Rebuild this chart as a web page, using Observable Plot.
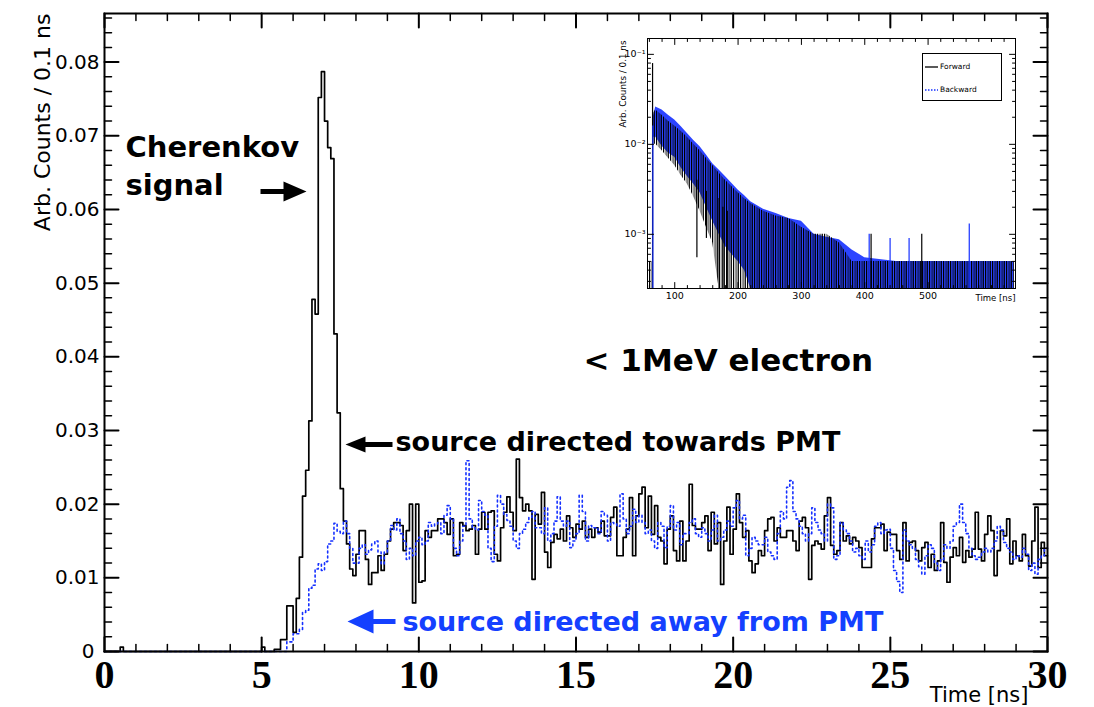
<!DOCTYPE html>
<html>
<head>
<meta charset="utf-8">
<script src="https://cdn.jsdelivr.net/npm/d3@7"></script>
<script src="https://cdn.jsdelivr.net/npm/@observablehq/plot@0.6"></script>
<style>
  html, body { margin: 0; padding: 0; background: #fff; }
  #wrap { position: relative; width: 1094px; height: 707px; overflow: hidden; background: #fff; }
  #wrap > svg { position: absolute; }
  #legend { position: absolute; left: 922px; top: 53px; width: 78px; height: 46px; border: 1.3px solid #000; background: #fff;
            font-family: "DejaVu Sans", sans-serif; font-size: 7.5px; }
  #legend .row { position: absolute; left: 0; width: 100%; height: 12px; }
  #legend .row svg { position: absolute; left: 2px; top: 0; }
  #legend .row span { position: absolute; left: 17px; top: 1px; line-height: 10px; }
</style>
</head>
<body>
<div id="wrap"></div>
<script>
// ---------- data ----------
const binWidth = 0.1; // ns per bin
const seriesNames = ["Forward", "Backward"];

// source directed towards PMT (black solid histogram), 300 bins of 0.1 ns
const forward = [
  0,0,0,0,0,0.0006,0,0,0,0,
  0,0,0,0,0,0,0,0,0,0,
  0,0,0,0,0,0,0,0,0,0,
  0,0,0,0,0,0,0,0,0,0,
  0,0,0,0,0,0,0,0,0,0,
  0.0006,0,0,0,0.0003,0.0003,0.0016,0.0016,0.0062,0.0062,
  0.0026,0.0072,0.0128,0.0211,0.0246,0.0313,0.0478,0.0458,0.0752,0.0787,
  0.0720,0.0684,0.0669,0.0431,0.0324,0.0221,0.0177,0.0146,0.0112,0.0103,
  0.0132,0.0164,0.0164,0.0125,0.0091,0.0107,0.0107,0.0130,0.0110,0.0132,
  0.0150,0.0166,0.0175,0.0175,0.0171,0.0137,0.0164,0.0200,0.0066,0.0200,
  0.0094,0.0096,0.0164,0.0155,0.0164,0.0164,0.0180,0.0180,0.0175,0.0159,
  0.0180,0.0130,0.0132,0.0175,0.0171,0.0164,0.0166,0.0171,0.0132,0.0166,
  0.0189,0.0166,0.0189,0.0191,0.0132,0.0123,0.0168,0.0189,0.0210,0.0189,
  0.0164,0.0261,0.0209,0.0191,0.0200,0.0191,0.0098,0.0186,0.0173,0.0216,
  0.0135,0.0114,0.0148,0.0159,0.0153,0.0166,0.0150,0.0184,0.0168,0.0155,
  0.0173,0.0166,0.0177,0.0155,0.0166,0.0155,0.0168,0.0162,0.0177,0.0157,
  0.0157,0.0182,0.0196,0.0130,0.0130,0.0155,0.0166,0.0209,0.0130,0.0184,
  0.0214,0.0223,0.0168,0.0211,0.0159,0.0198,0.0155,0.0150,0.0119,0.0166,
  0.0184,0.0137,0.0123,0.0177,0.0123,0.0150,0.0227,0.0171,0.0166,0.0166,
  0.0175,0.0184,0.0137,0.0189,0.0146,0.0175,0.0091,0.0150,0.0196,0.0132,
  0.0166,0.0214,0.0175,0.0155,0.0164,0.0123,0.0107,0.0119,0.0137,0.0130,
  0.0164,0.0180,0.0182,0.0150,0.0168,0.0155,0.0155,0.0164,0.0164,0.0150,
  0.0137,0.0177,0.0182,0.0168,0.0098,0.0144,0.0150,0.0146,0.0139,0.0184,
  0.0209,0.0144,0.0132,0.0137,0.0175,0.0150,0.0157,0.0146,0.0155,0.0150,
  0.0141,0.0114,0.0114,0.0114,0.0153,0.0168,0.0168,0.0173,0.0137,0.0162,
  0.0159,0.0159,0.0137,0.0125,0.0175,0.0123,0.0148,0.0150,0.0137,0.0123,
  0.0141,0.0148,0.0114,0.0132,0.0110,0.0123,0.0175,0.0121,0.0094,0.0128,
  0.0141,0.0130,0.0155,0.0121,0.0137,0.0128,0.0139,0.0189,0.0139,0.0123,
  0.0159,0.0184,0.0164,0.0103,0.0137,0.0164,0.0157,0.0180,0.0119,0.0150,
  0.0130,0.0123,0.0159,0.0130,0.0116,0.0150,0.0196,0.0114,0.0148,0.0130
];

// source directed away from PMT (blue dotted histogram), 300 bins of 0.1 ns
const backward = [
  0,0,0,0,0,0,0,0,0,0,
  0,0,0,0,0,0,0,0,0,0,
  0,0,0,0,0,0,0,0,0,0,
  0,0,0,0,0,0,0,0,0,0,
  0,0,0,0,0,0,0,0,0,0,
  0,0,0,0,0,0,0,0,0.0013,0.0013,
  0.0024,0.0024,0.0030,0.0053,0.0056,0.0086,0.0090,0.0112,0.0119,0.0110,
  0.0122,0.0146,0.0150,0.0174,0.0163,0.0160,0.0177,0.0160,0.0140,0.0120,
  0.0120,0.0140,0.0145,0.0132,0.0138,0.0146,0.0150,0.0135,0.0119,0.0135,
  0.0150,0.0171,0.0165,0.0180,0.0160,0.0150,0.0125,0.0140,0.0130,0.0150,
  0.0155,0.0145,0.0150,0.0175,0.0170,0.0173,0.0175,0.0160,0.0185,0.0198,
  0.0180,0.0140,0.0130,0.0150,0.0170,0.0259,0.0180,0.0168,0.0165,0.0205,
  0.0190,0.0185,0.0140,0.0122,0.0170,0.0212,0.0200,0.0186,0.0178,0.0170,
  0.0150,0.0140,0.0160,0.0166,0.0175,0.0182,0.0190,0.0168,0.0168,0.0160,
  0.0195,0.0150,0.0160,0.0177,0.0210,0.0177,0.0170,0.0177,0.0141,0.0150,
  0.0160,0.0212,0.0190,0.0150,0.0171,0.0168,0.0168,0.0160,0.0190,0.0185,
  0.0150,0.0175,0.0173,0.0170,0.0214,0.0180,0.0160,0.0170,0.0193,0.0175,
  0.0185,0.0175,0.0160,0.0165,0.0150,0.0140,0.0175,0.0170,0.0141,0.0170,
  0.0198,0.0165,0.0175,0.0145,0.0160,0.0160,0.0175,0.0180,0.0160,0.0155,
  0.0168,0.0160,0.0150,0.0165,0.0185,0.0150,0.0155,0.0165,0.0177,0.0170,
  0.0195,0.0205,0.0180,0.0185,0.0130,0.0140,0.0155,0.0150,0.0145,0.0145,
  0.0155,0.0135,0.0130,0.0125,0.0160,0.0190,0.0180,0.0223,0.0232,0.0190,
  0.0180,0.0170,0.0160,0.0150,0.0160,0.0195,0.0175,0.0165,0.0160,0.0150,
  0.0200,0.0195,0.0125,0.0130,0.0175,0.0165,0.0160,0.0150,0.0135,0.0140,
  0.0130,0.0125,0.0150,0.0135,0.0145,0.0170,0.0175,0.0160,0.0165,0.0166,
  0.0140,0.0110,0.0095,0.0080,0.0165,0.0150,0.0145,0.0140,0.0125,0.0115,
  0.0105,0.0130,0.0145,0.0140,0.0120,0.0110,0.0125,0.0145,0.0140,0.0150,
  0.0170,0.0175,0.0200,0.0175,0.0160,0.0140,0.0130,0.0125,0.0128,0.0135,
  0.0140,0.0135,0.0140,0.0150,0.0170,0.0165,0.0148,0.0140,0.0135,0.0125,
  0.0130,0.0128,0.0140,0.0132,0.0110,0.0120,0.0105,0.0125,0.0130,0.0140
];

// main axes
const xDomain = [0, 30];
const yDomain = [0, 0.0866];
const xMajor = [0, 5, 10, 15, 20, 25, 30];
const xMinor = [1, 2, 3, 4, 6, 7, 8, 9, 11, 12, 13, 14, 16, 17, 18, 19, 21, 22, 23, 24, 26, 27, 28, 29];
const yMajor = [0, 0.01, 0.02, 0.03, 0.04, 0.05, 0.06, 0.07, 0.08];
const yMinor = [0.002, 0.004, 0.006, 0.008, 0.012, 0.014, 0.016, 0.018, 0.022, 0.024, 0.026, 0.028,
                0.032, 0.034, 0.036, 0.038, 0.042, 0.044, 0.046, 0.048, 0.052, 0.054, 0.056, 0.058,
                0.062, 0.064, 0.066, 0.068, 0.072, 0.074, 0.076, 0.078, 0.082, 0.084, 0.086];

// inset (full time range, log scale): envelopes of the dense band
const insetTimes = [58, 64, 65, 66, 70, 80, 90, 100, 110, 120, 130, 140, 150, 160, 170, 180, 190, 200, 210, 220, 240, 260, 280, 300, 320, 340, 360, 380, 400, 450, 500, 550, 636];
const fwdHigh = [0.0005, 0.0005, 0.0005, 0.022, 0.024, 0.021, 0.018, 0.016, 0.014, 0.012, 0.010, 0.0085, 0.007, 0.0058, 0.0048, 0.004, 0.0034, 0.0029, 0.0025, 0.0022, 0.0018, 0.0016, 0.0015, 0.0012, 0.0010, 0.0010, 0.0008, 0.0005, 0.0005, 0.0005, 0.0005, 0.0005, 0.0005];
const fwdLow  = [0.00025, 0.00025, 0.00025, 0.010, 0.010, 0.0085, 0.007, 0.0058, 0.0045, 0.0036, 0.0026, 0.0018, 0.0012, 0.0008, 0.00025, 0.00025, 0.00025, 0.00025, 0.00025, 0.00025, 0.00025, 0.00025, 0.00025, 0.00025, 0.00025, 0.00025, 0.00025, 0.00025, 0.00025, 0.00025, 0.00025, 0.00025, 0.00025];
const bwdHigh = [0.00025, 0.00025, 0.00025, 0.020, 0.026, 0.024, 0.021, 0.0186, 0.0158, 0.0132, 0.011, 0.0094, 0.0076, 0.0061, 0.0052, 0.0044, 0.0037, 0.0031, 0.0027, 0.0023, 0.0019, 0.0017, 0.0015, 0.0014, 0.0010, 0.00093, 0.00087, 0.00067, 0.00055, 0.0005, 0.0005, 0.0005, 0.0005];
const bwdLow  = [0.00025, 0.00025, 0.00025, 0.012, 0.012, 0.0095, 0.008, 0.0072, 0.0055, 0.0044, 0.0036, 0.0029, 0.0020, 0.0014, 0.0010, 0.00073, 0.0006, 0.0005, 0.0004, 0.00025, 0.00025, 0.00025, 0.00025, 0.00025, 0.00025, 0.00025, 0.00025, 0.00025, 0.00025, 0.00025, 0.00025, 0.00025, 0.00025];
// isolated spikes in the inset
const spikeTimes  = [65, 135, 150, 170, 176, 183, 410, 490, 65.5, 407, 440, 470, 565];
const spikeLow    = [0.00025, 0.00055, 0.0009, 0.00025, 0.00025, 0.00025, 0.00025, 0.00025, 0.00025, 0.00025, 0.00025, 0.00025, 0.00025];
const spikeHigh   = [0.079, 0.004, 0.003, 0.0025, 0.002, 0.0018, 0.001, 0.001, 0.016, 0.001, 0.0009, 0.0009, 0.0013];
const spikeSeries = ["Forward","Forward","Forward","Forward","Forward","Forward","Forward","Forward","Backward","Backward","Backward","Backward","Backward"];
const insetXDomain = [57, 638];
const insetYDomain = [0.00025, 0.15];
const insetXMajor = [100, 200, 300, 400, 500];
const insetXMinor = [60, 80, 120, 140, 160, 180, 220, 240, 260, 280, 320, 340, 360, 380, 420, 440, 460, 480, 520, 540, 560, 580, 600, 620];
const insetYMajor = [0.001, 0.01, 0.1];
const insetYMinor = [0.0003, 0.0004, 0.0005, 0.0006, 0.0007, 0.0008, 0.0009,
                     0.002, 0.003, 0.004, 0.005, 0.006, 0.007, 0.008, 0.009,
                     0.02, 0.03, 0.04, 0.05, 0.06, 0.07, 0.08, 0.09];

// ---------- helpers ----------
const BLACK = "#000";
const BLUE_LINE = "#1530ff";
const BLUE_TEXT = "#1440ff";
const color = {Forward: BLACK, Backward: BLUE_LINE};

function hist(values) {
  const pts = values.map((v, i) => ({t: i * binWidth, v}));
  pts.push({t: values.length * binWidth, v: values[values.length - 1]});
  return pts;
}
const tickShape = {draw(ctx, l) { ctx.moveTo(0, 0); ctx.lineTo(0, -l); }};
function arrowShape(head, half, shaft) {
  return {draw(ctx, l) {
    const b = l - head;
    ctx.moveTo(-shaft, 0); ctx.lineTo(-shaft, -b); ctx.lineTo(-half, -b);
    ctx.lineTo(0, -l); ctx.lineTo(half, -b); ctx.lineTo(shaft, -b); ctx.lineTo(shaft, 0);
    ctx.closePath();
  }};
}
function frameTicks(xs, ys, xDom, yDom, len, sw) {
  const o = {shape: tickShape, anchor: "start", stroke: BLACK, strokeWidth: sw, length: len};
  return [
    Plot.vector(ys, {...o, x: xDom[0], y: d => d, rotate: 90}),
    Plot.vector(ys, {...o, x: xDom[1], y: d => d, rotate: -90}),
    Plot.vector(xs, {...o, x: d => d, y: yDom[0], rotate: 0}),
    Plot.vector(xs, {...o, x: d => d, y: yDom[1], rotate: 180})
  ];
}
const SANS = "DejaVu Sans";
const yLabelOpts = {anchor: "left", tickSize: 0, fontSize: 20, fontFamily: SANS, fill: BLACK,
  tickFormat: d => d === 0 ? "0" : d3.format(".2f")(d), label: null};

// ---------- main chart ----------
const main = Plot.plot({
  width: 1094, height: 707,
  marginLeft: 104, marginRight: 47, marginTop: 13, marginBottom: 56,
  x: {domain: xDomain},
  y: {domain: yDomain},
  style: {background: "transparent", fontFamily: SANS, overflow: "visible"},
  marks: [
    Plot.line(hist(forward), {x: "t", y: "v", curve: "step-after", stroke: color.Forward, strokeWidth: 1.7}),
    Plot.line(hist(backward), {x: "t", y: "v", curve: "step-after", stroke: color.Backward, strokeWidth: 1.6, strokeDasharray: "2,3"}),
    ...frameTicks(xMajor, yMajor, xDomain, yDomain, 14, 2),
    ...frameTicks(xMinor, yMinor, xDomain, yDomain, 7, 1.5),
    Plot.frame({stroke: BLACK, strokeWidth: 2}),
    Plot.axisY(yMajor.filter(d => d > 0), {...yLabelOpts, tickPadding: 5}),
    Plot.axisY(yMajor.filter(d => d === 0), {...yLabelOpts, tickPadding: 10}),
    Plot.axisX(xMajor, {anchor: "bottom", tickSize: 0, tickPadding: 8, fontSize: 40, fontFamily: "Liberation Serif", fontWeight: "bold", fill: BLACK,
      tickFormat: d => String(d), label: null}),
    Plot.text(["Arb. Counts / 0.1 ns"], {frameAnchor: "top-left", text: d => d, rotate: -90, textAnchor: "end", lineAnchor: "bottom",
      dx: -55, dy: 0, fontSize: 22, fontFamily: SANS, fill: BLACK}),
    Plot.text(["Time [ns]"], {frameAnchor: "bottom-right", text: d => d, textAnchor: "end", lineAnchor: "bottom",
      dx: -19, dy: 50, fontSize: 21, fontFamily: SANS, fill: BLACK}),
    // annotations
    Plot.text(["Cherenkov"], {x: 0.668, y: 0.06706, text: d => d, textAnchor: "start", lineAnchor: "bottom", fontSize: 29, fontWeight: "bold", fontFamily: SANS, fill: BLACK}),
    Plot.text(["signal"], {x: 0.668, y: 0.0619, text: d => d, textAnchor: "start", lineAnchor: "bottom", fontSize: 29, fontWeight: "bold", fontFamily: SANS, fill: BLACK}),
    Plot.vector([0], {x: 4.963, y: 0.06244, length: 46, rotate: 90, anchor: "start", shape: arrowShape(23, 10, 2.5), fill: BLACK, stroke: "none"}),
    Plot.text(["< 1MeV electron"], {x: 15.24, y: 0.03814, text: d => d, textAnchor: "start", lineAnchor: "bottom", fontSize: 31, fontWeight: "bold", fontFamily: SANS, fill: BLACK}),
    Plot.vector([0], {x: 9.162, y: 0.0281, length: 47, rotate: -90, anchor: "start", shape: arrowShape(20, 8, 2.5), fill: BLACK, stroke: "none"}),
    Plot.text(["source directed towards PMT"], {x: 9.258, y: 0.02715, text: d => d, textAnchor: "start", lineAnchor: "bottom", fontSize: 27, fontWeight: "bold", fontFamily: SANS, fill: BLACK}),
    Plot.vector([0], {x: 9.258, y: 0.00407, length: 48, rotate: -90, anchor: "start", shape: arrowShape(26, 12, 2.5), fill: BLUE_TEXT, stroke: "none"}),
    Plot.text(["source directed away from PMT"], {x: 9.48, y: 0.00285, text: d => d, textAnchor: "start", lineAnchor: "bottom", fontSize: 27, fontWeight: "bold", fontFamily: SANS, fill: BLUE_TEXT})
  ]
});
main.style.left = "0px"; main.style.top = "0px";

// ---------- inset ----------
const band = insetTimes.map((t, i) => ({t, fh: fwdHigh[i], fl: fwdLow[i], bh: bwdHigh[i], bl: bwdLow[i]}));
const spikes = spikeTimes.map((t, i) => ({t, lo: spikeLow[i], hi: spikeHigh[i], s: spikeSeries[i]}));
const sup = {"-1": "⁻¹", "-2": "⁻²", "-3": "⁻³"};
const inset = Plot.plot({
  width: 430, height: 300,
  marginLeft: 47, marginRight: 15, marginTop: 18, marginBottom: 32,
  x: {domain: insetXDomain},
  y: {type: "log", domain: insetYDomain},
  style: {background: "transparent", fontFamily: SANS, overflow: "visible"},
  marks: [
    Plot.areaY(band, {x: "t", y1: "bl", y2: "bh", fill: color.Backward, fillOpacity: 0.9, clip: true}),
    Plot.areaY(band, {x: "t", y1: "fl", y2: "fh", fill: "url(#hatchForward)", clip: true}),
    Plot.ruleX(spikes, {x: "t", y1: "lo", y2: "hi", stroke: d => color[d.s], strokeWidth: 1.2, clip: true}),
    ...frameTicks(insetXMajor, insetYMajor, insetXDomain, insetYDomain, 6, 1),
    ...frameTicks(insetXMinor, insetYMinor, insetXDomain, insetYDomain, 3, 1),
    Plot.frame({stroke: BLACK, strokeWidth: 1}),
    Plot.axisX(insetXMajor, {anchor: "bottom", tickSize: 0, tickPadding: 4, fontSize: 9.5, fontFamily: SANS, fill: BLACK, tickFormat: d => String(d), label: null}),
    Plot.axisY(insetYMajor, {anchor: "left", tickSize: 0, tickPadding: 2, fontSize: 9.5, fontFamily: SANS, fill: BLACK,
      tickFormat: d => "10" + sup[String(Math.round(Math.log10(d)))], label: null}),
    Plot.text(["Arb. Counts / 0.1 ns"], {frameAnchor: "top-left", text: d => d, rotate: -90, textAnchor: "end", lineAnchor: "bottom",
      dx: -22, dy: 2, fontSize: 8.8, fontFamily: SANS, fill: BLACK}),
    Plot.text(["Time [ns]"], {frameAnchor: "bottom-right", text: d => d, textAnchor: "end", lineAnchor: "bottom",
      dx: 0, dy: 12, fontSize: 8.5, fontFamily: SANS, fill: BLACK})
  ]
});
// vertical-stroke texture used for the dense forward histogram in the inset
const svgNS = "http://www.w3.org/2000/svg";
const defs = document.createElementNS(svgNS, "defs");
defs.innerHTML = `<pattern id="hatchForward" width="7" height="6" patternUnits="userSpaceOnUse">
  <rect x="0" y="0" width="1.2" height="6" fill="#000"/>
  <rect x="2.6" y="0" width="0.9" height="6" fill="#000"/>
  <rect x="4.6" y="0" width="1.3" height="6" fill="#000"/></pattern>`;
inset.insertBefore(defs, inset.firstChild);
inset.style.left = "600px"; inset.style.top = "20px";

const wrap = document.getElementById("wrap");
wrap.appendChild(main);
wrap.appendChild(inset);

// inset legend
const legend = document.createElement("div");
legend.id = "legend";
seriesNames.forEach((name, i) => {
  const row = document.createElement("div");
  row.className = "row";
  row.style.top = (7 + i * 23) + "px";
  const dash = name === "Backward" ? ' stroke-dasharray="1.5,1.5"' : "";
  row.innerHTML = `<svg width="14" height="12"><line x1="0" y1="6" x2="13" y2="6" stroke="${color[name]}" stroke-width="1.3"${dash}/></svg><span>${name}</span>`;
  legend.appendChild(row);
});
wrap.appendChild(legend);
</script>
</body>
</html>
